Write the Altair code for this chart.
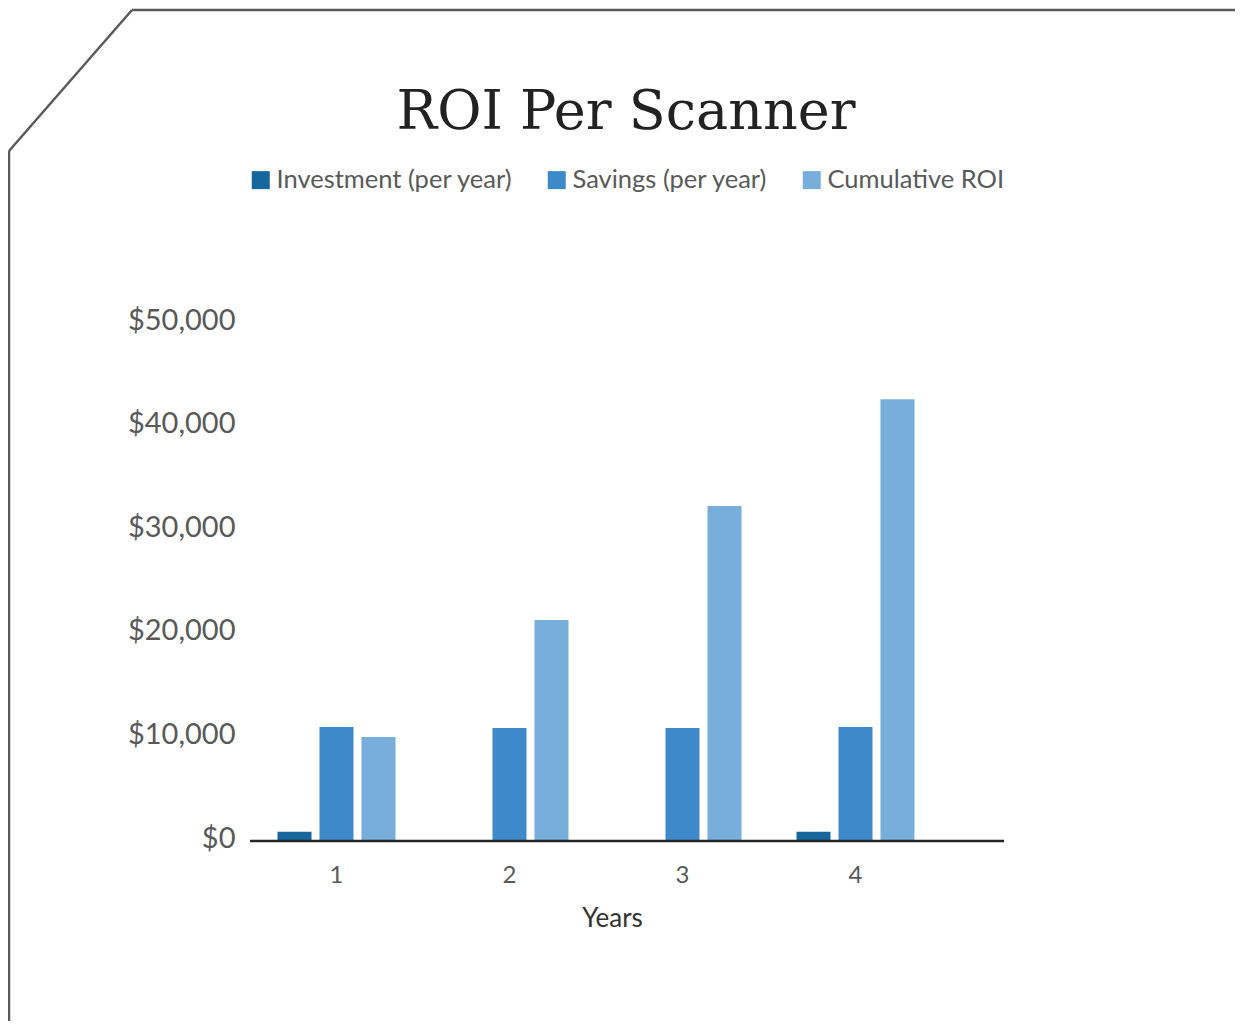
import altair as alt
import pandas as pd

years = ["1", "2", "3", "4"]
series = ["Investment (per year)", "Savings (per year)", "Cumulative ROI"]
investment = [900, 0, 0, 900]
savings = [11000, 10900, 10900, 11000]
cumulative = [10050, 21330, 32340, 42650]
colors = ["#15679d", "#3d89ca", "#77aedc"]
y_ticks = [0, 10000, 20000, 30000, 40000, 50000]
title_text = "ROI Per Scanner"

rows = []
for i, yr in enumerate(years):
    for s, vals in zip(series, [investment, savings, cumulative]):
        rows.append({"Year": yr, "Series": s, "Value": vals[i]})
df = pd.DataFrame(rows)

W, H = 692, 518
LABEL_FONT = "Lato"
GREY = "#595959"

bars = alt.Chart(df).mark_bar().encode(
    x=alt.X("Year:N", sort=years,
            scale=alt.Scale(paddingInner=0, paddingOuter=0),
            axis=alt.Axis(title="Years", labelAngle=0, domain=False, ticks=False,
                          labelFont=LABEL_FONT, labelFontSize=24, labelColor=GREY,
                          labelPadding=22, titleFont=LABEL_FONT, titleFontSize=26,
                          titleFontWeight="normal", titleColor="#333333",
                          titlePadding=18, titleX=362)),
    xOffset=alt.XOffset("Series:N", sort=series,
                        scale=alt.Scale(paddingInner=0.19, paddingOuter=0.655)),
    y=alt.Y("Value:Q", scale=alt.Scale(domain=[0, 50000], nice=False),
            axis=alt.Axis(title=None, values=y_ticks, format="$,.0f", domain=False,
                          ticks=False, grid=False, labelFont=LABEL_FONT,
                          labelFontSize=29, labelColor=GREY, labelPadding=15,
                          labelOffset=-3)),
    color=alt.Color("Series:N", sort=series,
                    scale=alt.Scale(domain=series, range=colors),
                    legend=alt.Legend(title=None, orient="none", direction="horizontal",
                                      legendX=-2, legendY=-156, symbolType="square",
                                      symbolSize=324, symbolStrokeWidth=0,
                                      labelFont=LABEL_FONT, labelFontSize=25.5,
                                      labelColor=GREY, labelOffset=3,
                                      columnPadding=31, labelLimit=400)),
)

one = alt.Data(values=[{"k": 1}])

axis_line = alt.Chart(one).mark_rule(color="#262626", strokeWidth=2.5).encode(
    x=alt.value(0), x2=alt.value(754), y=alt.value(H))

frame_top = alt.Chart(one).mark_rule(color="#5a5a5a", strokeWidth=2.5).encode(
    x=alt.value(-118), x2=alt.value(1000), y=alt.value(-313), y2=alt.value(-313))
frame_diag = alt.Chart(one).mark_rule(color="#5a5a5a", strokeWidth=2.5).encode(
    x=alt.value(-118), x2=alt.value(-241), y=alt.value(-313), y2=alt.value(-172))
frame_left = alt.Chart(one).mark_rule(color="#5a5a5a", strokeWidth=2.5).encode(
    x=alt.value(-241), x2=alt.value(-241), y=alt.value(-172), y2=alt.value(720))

title = alt.Chart(alt.Data(values=[{"t": title_text}])).mark_text(
    font="DejaVu Serif", fontSize=54, color="#222222", align="center",
    baseline="middle").encode(text="t:N", x=alt.value(376), y=alt.value(-210))

chart = alt.layer(bars, axis_line, frame_top, frame_diag, frame_left, title).properties(
    width=W, height=H,
    background="white",
    autosize=alt.AutoSizeParams(type="none"),
    padding={"left": 242, "top": 315, "right": 293, "bottom": 180},
).configure_view(stroke=None, strokeWidth=0)

chart.save("out.html", embed_options={"renderer": "svg", "actions": False})
